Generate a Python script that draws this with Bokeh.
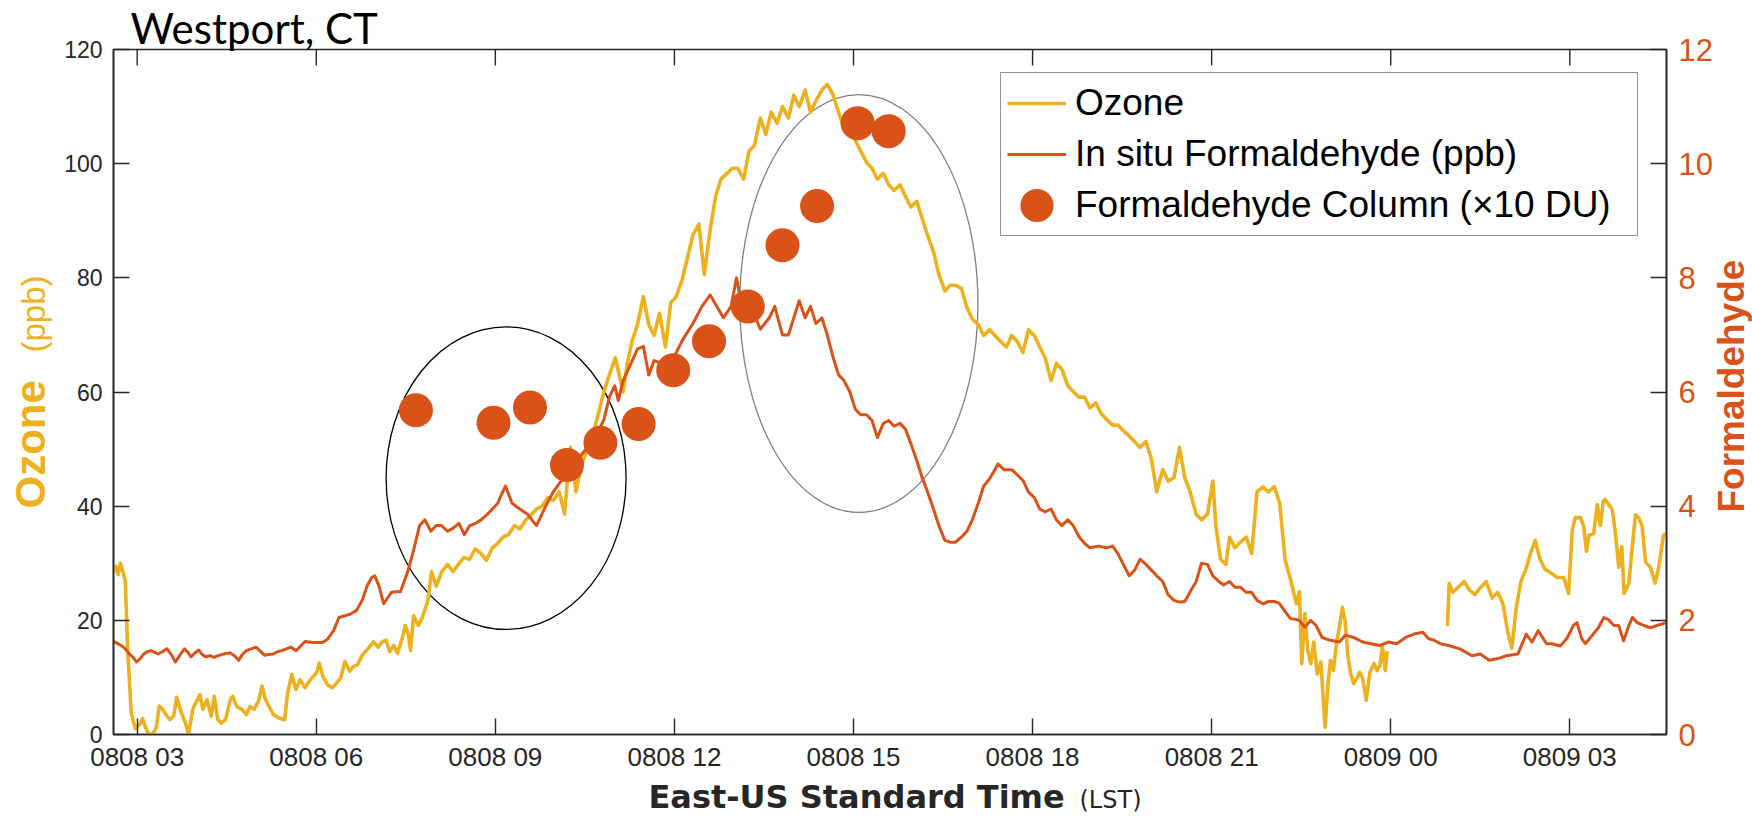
import numpy as np
from bokeh.plotting import figure
from bokeh.models import (Range1d, LinearAxis, FixedTicker, Label, Legend, LegendItem)
from bokeh.embed import file_html
from bokeh.resources import INLINE

# ---------------- data (hours since 0808 00:00 LST) ----------------
ozone_hours = [2.60, 2.64, 2.68, 2.72, 2.76, 2.80, 2.84, 2.90, 2.97, 3.05, 3.09, 3.13, 3.19, 3.26, 3.32,
               3.37, 3.42, 3.48, 3.55, 3.61, 3.66, 3.74, 3.81, 3.86, 3.93, 3.98, 4.05, 4.10, 4.17, 4.24,
               4.29, 4.35, 4.41, 4.48, 4.56, 4.60, 4.67, 4.75, 4.83, 4.89, 4.96, 5.04, 5.09, 5.15, 5.21,
               5.28, 5.37, 5.47, 5.52, 5.59, 5.66, 5.73, 5.81, 5.88, 5.95, 6.00, 6.05, 6.11, 6.19, 6.27,
               6.34, 6.41, 6.48, 6.56, 6.62, 6.69, 6.77, 6.84, 6.91, 6.96, 7.04, 7.10, 7.17, 7.23, 7.30,
               7.36, 7.44, 7.49, 7.54, 7.58, 7.63, 7.71, 7.78, 7.87, 7.93, 8.01, 8.10, 8.20, 8.29, 8.38,
               8.47, 8.57, 8.66, 8.76, 8.85, 8.95, 9.04, 9.13, 9.22, 9.32, 9.41, 9.51, 9.60, 9.69, 9.78,
               9.88, 9.97, 10.07, 10.16, 10.21, 10.26, 10.35, 10.45, 10.54, 10.63, 10.72, 10.82, 10.91,
               11.01, 11.14, 11.21, 11.29, 11.38, 11.48, 11.57, 11.66, 11.75, 11.85, 11.94, 12.03, 12.13,
               12.22, 12.31, 12.41, 12.50, 12.60, 12.69, 12.78, 12.88, 12.97, 13.06, 13.16, 13.25, 13.34,
               13.44, 13.53, 13.62, 13.72, 13.81, 13.91, 14.00, 14.09, 14.19, 14.28, 14.37, 14.47, 14.56,
               14.66, 14.75, 14.84, 14.94, 15.03, 15.12, 15.22, 15.31, 15.40, 15.50, 15.59, 15.68, 15.78,
               15.87, 15.96, 16.06, 16.15, 16.24, 16.34, 16.43, 16.53, 16.62, 16.71, 16.81, 16.90, 16.99,
               17.09, 17.18, 17.28, 17.37, 17.46, 17.56, 17.65, 17.74, 17.84, 17.93, 18.03, 18.12, 18.21,
               18.31, 18.40, 18.49, 18.59, 18.68, 18.78, 18.87, 18.96, 19.06, 19.15, 19.24, 19.34, 19.43,
               19.52, 19.62, 19.71, 19.80, 19.90, 19.99, 20.08, 20.18, 20.27, 20.37, 20.46, 20.55, 20.64,
               20.74, 20.83, 20.93, 21.02, 21.07, 21.15, 21.24, 21.30, 21.39, 21.48, 21.58, 21.67, 21.76,
               21.86, 21.95, 22.05, 22.14, 22.23, 22.33, 22.42, 22.47, 22.51, 22.56, 22.61, 22.66, 22.71,
               22.77, 22.83, 22.90, 22.95, 22.99, 23.04, 23.09, 23.14, 23.19, 23.24, 23.28, 23.33, 23.38,
               23.43, 23.48, 23.53, 23.59, 23.65, 23.72, 23.77, 23.82, 23.86, 23.91, 23.94, 24.40, 24.95,
               24.98, 25.04, 25.13, 25.23, 25.32, 25.41, 25.51, 25.60, 25.70, 25.79, 25.88, 25.96, 26.03,
               26.10, 26.18, 26.26, 26.35, 26.42, 26.50, 26.58, 26.67, 26.79, 26.90, 26.98, 27.04, 27.09,
               27.18, 27.23, 27.28, 27.32, 27.40, 27.46, 27.51, 27.56, 27.59, 27.65, 27.71, 27.76, 27.82,
               27.87, 27.91, 27.99, 28.04, 28.10, 28.15, 28.21, 28.27, 28.35, 28.43, 28.49, 28.57, 28.62]
ozone_ppb = [28.5, 29.5, 28.0, 30.0, 28.5, 27.0, 15.0, 3.7, 1.0, 1.9, 2.8, 1.5, 0.0, 0.1, 1.2,
             5.0, 4.5, 3.5, 2.6, 3.2, 6.5, 3.8, 2.0, 0.0, 4.4, 5.5, 7.0, 4.4, 6.1, 3.2,
             6.7, 2.6, 2.0, 2.6, 6.1, 6.7, 4.9, 4.4, 3.5, 4.9, 4.4, 6.1, 8.5, 6.1, 4.9,
             3.5, 2.9, 2.6, 7.3, 10.5, 7.9, 9.6, 8.2, 9.3, 10.2, 10.7, 12.5, 10.2, 8.7, 8.2,
             9.0, 9.9, 12.8, 11.1, 11.9, 12.2, 13.9, 14.7, 15.6, 16.2, 15.3, 16.2, 16.5, 14.5, 15.6,
             14.2, 16.8, 19.1, 17.6, 14.7, 20.8, 19.1, 20.6, 23.5, 28.5, 26.0, 28.5, 29.8, 28.5, 29.8,
             31.0, 30.7, 32.5, 31.7, 30.5, 32.7, 33.5, 34.6, 35.0, 36.6, 36.0, 37.6, 38.5, 39.5, 40.0,
             41.5, 41.0, 42.5, 38.6, 45.0, 50.3, 42.5, 47.4, 50.0, 52.3, 56.0, 60.1, 63.0,
             66.0, 60.0, 65.0, 68.9, 71.8, 76.7, 71.8, 69.9, 73.8, 67.9, 75.7, 76.7, 79.7,
             83.6, 87.5, 89.4, 80.6, 88.5, 94.3, 97.3, 98.3, 99.2, 99.2, 97.3, 102.2, 103.2,
             108.0, 105.1, 109.0, 107.1, 110.0, 108.0, 112.0, 110.0, 112.9, 109.0, 111.0, 112.9, 113.9,
             112.0, 109.0, 106.1, 107.1, 104.1, 102.2, 100.2, 99.2, 97.3, 98.3, 96.3, 95.3, 96.3,
             94.3, 92.4, 93.4, 90.4, 87.5, 84.6, 80.6, 77.7, 78.7, 78.7, 78.1, 74.8, 72.8,
             71.8, 69.9, 70.9, 69.9, 68.9, 67.9, 69.9, 68.9, 66.9, 70.9, 69.9, 67.9, 66.0,
             62.0, 65.0, 64.0, 61.1, 60.1, 59.1, 59.1, 57.2, 58.1, 56.2, 55.2, 54.2, 54.2,
             53.2, 52.3, 51.3, 50.3, 51.3, 48.3, 42.5, 46.4, 44.4, 45.0, 50.3, 45.0, 42.5,
             38.6, 37.6, 38.6, 44.4, 36.6, 30.7, 29.8, 34.6, 32.7, 33.7, 34.6, 31.7, 42.5,
             43.4, 42.5, 43.4, 40.5, 30.7, 26.8, 22.9, 25.0, 12.4, 21.2, 14.7, 12.4, 16.2,
             10.6, 12.7, 1.3, 8.9, 13.0, 11.2, 16.0, 18.8, 22.3, 19.6, 14.0, 10.6, 8.9,
             9.8, 10.9, 9.8, 6.0, 10.9, 12.4, 11.2, 12.1, 15.4, 11.2, 14.6, float("nan"), 19.0,
             26.5, 24.9, 25.8, 26.8, 25.3, 24.5, 25.8, 26.8, 23.9, 24.9, 22.9, 18.0, 15.1,
             22.0, 26.8, 28.8, 32.0, 34.0, 30.7, 29.0, 28.4, 27.5, 27.5, 24.7, 35.7, 38.0,
             38.0, 36.6, 32.1, 34.9, 35.2, 40.3, 36.6, 40.8, 41.2, 40.3, 39.4, 35.7, 29.3,
             32.9, 24.7, 26.5, 32.1, 38.5, 38.0, 36.6, 30.2, 29.3, 26.5, 29.3, 34.9, 35.2]

hcho_hours = [2.60, 2.66, 2.73, 2.80, 2.87, 2.93, 2.99, 3.05, 3.11, 3.17, 3.23, 3.29, 3.35, 3.42, 3.50,
              3.57, 3.64, 3.72, 3.79, 3.85, 3.90, 3.96, 4.03, 4.09, 4.15, 4.22, 4.29, 4.35, 4.41, 4.48,
              4.56, 4.63, 4.70, 4.76, 4.83, 4.91, 4.99, 5.06, 5.13, 5.20, 5.28, 5.35, 5.42, 5.50, 5.57,
              5.62, 5.66, 5.74, 5.81, 5.88, 5.95, 6.03, 6.10, 6.19, 6.29, 6.38, 6.48, 6.57, 6.67, 6.77,
              6.85, 6.93, 6.98, 7.05, 7.13, 7.20, 7.26, 7.34, 7.41, 7.48, 7.54, 7.64, 7.73, 7.82, 7.92,
              8.01, 8.10, 8.20, 8.30, 8.39, 8.48, 8.57, 8.67, 8.76, 8.86, 8.95, 9.04, 9.10, 9.17, 9.28,
              9.41, 9.54, 9.62, 9.69, 9.82, 9.97, 10.10, 10.26, 10.39, 10.54, 10.63, 10.73, 10.82, 10.91,
              11.00, 11.06, 11.14, 11.25, 11.38, 11.48, 11.57, 11.66, 11.80, 11.94, 12.13, 12.31, 12.46,
              12.60, 12.71, 12.82, 12.95, 13.04, 13.13, 13.22, 13.32, 13.44, 13.59, 13.68, 13.81, 13.91,
              14.00, 14.09, 14.19, 14.28, 14.37, 14.47, 14.56, 14.66, 14.75, 14.84, 14.94, 15.03, 15.12,
              15.22, 15.31, 15.40, 15.50, 15.59, 15.68, 15.78, 15.87, 15.96, 16.06, 16.15, 16.24, 16.34,
              16.43, 16.53, 16.62, 16.71, 16.81, 16.90, 16.99, 17.09, 17.18, 17.28, 17.37, 17.42, 17.52,
              17.65, 17.74, 17.84, 17.93, 18.03, 18.12, 18.21, 18.31, 18.40, 18.49, 18.59, 18.68, 18.78,
              18.87, 18.96, 19.10, 19.24, 19.34, 19.43, 19.52, 19.62, 19.71, 19.80, 19.90, 19.99, 20.08,
              20.18, 20.27, 20.37, 20.46, 20.55, 20.64, 20.74, 20.83, 20.93, 21.02, 21.12, 21.20, 21.30,
              21.39, 21.48, 21.58, 21.67, 21.76, 21.86, 21.95, 22.05, 22.13, 22.22, 22.32, 22.40, 22.47,
              22.56, 22.66, 22.75, 22.85, 22.99, 23.14, 23.24, 23.38, 23.53, 23.67, 23.82, 23.96, 24.10,
              24.25, 24.39, 24.54, 24.63, 24.73, 24.83, 24.97, 25.16, 25.36, 25.50, 25.65, 25.79, 25.94,
              26.13, 26.27, 26.37, 26.47, 26.61, 26.70, 26.84, 26.95, 27.06, 27.12, 27.20, 27.26, 27.37,
              27.48, 27.57, 27.65, 27.74, 27.82, 27.90, 27.99, 28.05, 28.13, 28.24, 28.35, 28.46, 28.62]
hcho_ppb = [1.63, 1.60, 1.56, 1.50, 1.41, 1.35, 1.27, 1.33, 1.41, 1.45, 1.47, 1.44, 1.41, 1.45, 1.50,
            1.40, 1.27, 1.40, 1.50, 1.44, 1.36, 1.42, 1.48, 1.40, 1.36, 1.38, 1.35, 1.38, 1.40, 1.42,
            1.43, 1.38, 1.30, 1.40, 1.47, 1.50, 1.53, 1.46, 1.39, 1.40, 1.41, 1.45, 1.47, 1.50, 1.53,
            1.50, 1.47, 1.55, 1.63, 1.62, 1.61, 1.61, 1.61, 1.67, 1.82, 2.05, 2.08, 2.11, 2.17, 2.35,
            2.60, 2.75, 2.78, 2.60, 2.29, 2.40, 2.49, 2.50, 2.50, 2.70, 2.88, 3.27, 3.66, 3.76, 3.56,
            3.66, 3.66, 3.56, 3.62, 3.70, 3.50, 3.66, 3.70, 3.76, 3.85, 3.95, 4.05, 4.20, 4.35, 4.05,
            3.95, 3.86, 3.75, 3.66, 3.95, 4.25, 4.44, 4.64, 4.83, 5.03, 5.10, 5.32, 5.52, 5.91,
            6.11, 5.85, 6.20, 6.45, 6.75, 6.80, 6.30, 6.55, 6.50, 6.50, 6.90, 7.20, 7.50,
            7.70, 7.50, 7.30, 7.50, 8.00, 7.50, 7.70, 7.40, 7.10, 7.30, 7.50, 7.00, 7.00,
            7.30, 7.60, 7.30, 7.50, 7.20, 7.30, 7.00, 6.60, 6.30, 6.20, 6.00, 5.70, 5.60,
            5.60, 5.50, 5.20, 5.45, 5.50, 5.40, 5.45, 5.35, 5.10, 4.80, 4.50, 4.25, 3.95,
            3.66, 3.40, 3.37, 3.37, 3.46, 3.56, 3.76, 4.05, 4.35, 4.48, 4.64, 4.74, 4.64,
            4.64, 4.55, 4.45, 4.25, 4.15, 3.95, 3.90, 3.95, 3.76, 3.66, 3.76, 3.66, 3.46,
            3.35, 3.27, 3.30, 3.27, 3.30, 3.17, 2.98, 2.78, 2.88, 3.07, 2.98, 2.88, 2.78,
            2.68, 2.45, 2.35, 2.32, 2.33, 2.50, 2.68, 3.00, 2.98, 2.78, 2.68, 2.62, 2.68,
            2.58, 2.58, 2.49, 2.49, 2.35, 2.29, 2.33, 2.33, 2.30, 2.17, 2.03, 2.02, 2.00,
            1.88, 2.00, 1.91, 1.70, 1.65, 1.62, 1.74, 1.70, 1.62, 1.59, 1.56, 1.62, 1.59,
            1.70, 1.76, 1.79, 1.68, 1.65, 1.59, 1.56, 1.50, 1.38, 1.41, 1.30, 1.33, 1.38,
            1.41, 1.76, 1.62, 1.82, 1.59, 1.59, 1.55, 1.68, 1.91, 1.96, 1.68, 1.59, 1.73,
            1.87, 2.05, 2.01, 1.91, 1.91, 1.64, 1.91, 2.05, 1.96, 1.91, 1.87, 1.91, 1.96]

column_hours = [7.67, 8.97, 9.58, 10.20, 10.76, 11.40, 11.98, 12.58, 13.23, 13.81, 14.39, 15.07, 15.59]
column_values = [5.68, 5.46, 5.73, 4.72, 5.11, 5.44, 6.38, 6.89, 7.50, 8.57, 9.26, 10.71, 10.57]

# highlighted periods (centre hour, centre ozone ppb, width h, height ppb)
ellipse_hours = [9.18, 15.09]
ellipse_ozone = [44.9, 75.5]
ellipse_width_h = [4.02, 3.99]
ellipse_height_ppb = [53.0, 73.2]

x_tick_hours = [3, 6, 9, 12, 15, 18, 21, 24, 27]
x_tick_labels = ["0808 03", "0808 06", "0808 09", "0808 12", "0808 15",
                 "0808 18", "0808 21", "0809 00", "0809 03"]
ozone_ticks = [0, 20, 40, 60, 80, 100, 120]
hcho_ticks = [0, 2, 4, 6, 8, 10, 12]

# ---------------- styling ----------------
OZ = "#EDB120"
HC = "#D95319"
INK = "#262626"
SANS = "Liberation Sans"
W, H = 1752, 823
FRAME_H = 685            # plot-area height in px (823 - 49 - 89)
TICK_PX = 16

p = figure(width=W, height=H, output_backend="svg", toolbar_location=None,
           x_range=Range1d(2.603, 28.62), y_range=Range1d(0, 120),
           min_border_left=113, min_border_right=86, min_border_top=49, min_border_bottom=89)
p.extra_y_ranges = {"hcho": Range1d(0, 12)}
p.background_fill_color = "white"
p.border_fill_color = "white"
p.outline_line_color = INK
p.outline_line_width = 1.6
p.xgrid.grid_line_color = None
p.ygrid.grid_line_color = None

xax = p.below[0]
xax.ticker = FixedTicker(ticks=x_tick_hours)
xax.major_label_overrides = {h: lab for h, lab in zip(x_tick_hours, x_tick_labels)}
yax = p.left[0]
yax.ticker = FixedTicker(ticks=ozone_ticks)

for ax in (xax, yax):
    ax.major_tick_in = TICK_PX
    ax.major_tick_out = 0
    ax.minor_tick_line_color = None
    ax.major_tick_line_color = INK
    ax.major_tick_line_width = 1.4
    ax.axis_line_color = INK
    ax.axis_line_width = 1.6
    ax.major_label_text_color = INK
    ax.major_label_text_font = SANS

xax.major_label_text_font_size = "26px"
xax.major_label_standoff = 7
yax.major_label_text_font_size = "23px"
yax.major_label_standoff = 11

right_ax = LinearAxis(y_range_name="hcho", ticker=FixedTicker(ticks=hcho_ticks),
                      major_tick_in=TICK_PX, major_tick_out=0, major_tick_line_color=INK,
                      major_tick_line_width=1.4, minor_tick_line_color=None,
                      axis_line_color=INK, axis_line_width=1.6,
                      major_label_text_color=HC, major_label_text_font=SANS,
                      major_label_text_font_size="31px", major_label_standoff=12)
p.add_layout(right_ax, "right")

# inward tick marks along the top edge of the box (same positions as the time ticks)
top_tick_len = TICK_PX * 120.0 / FRAME_H
p.segment(x0=x_tick_hours, x1=x_tick_hours, y0=[120] * len(x_tick_hours),
          y1=[120 - top_tick_len] * len(x_tick_hours), line_color=INK, line_width=1.4)

# ---------------- glyphs ----------------
p.ellipse(x=ellipse_hours[:1], y=ellipse_ozone[:1], width=ellipse_width_h[:1],
          height=ellipse_height_ppb[:1], fill_color=None, line_color="black", line_width=1.3)
p.ellipse(x=ellipse_hours[1:], y=ellipse_ozone[1:], width=ellipse_width_h[1:],
          height=ellipse_height_ppb[1:], fill_color=None, line_color="#7f7f7f", line_width=1.3)

r_oz = p.line(ozone_hours, ozone_ppb, line_color=OZ, line_width=3.6, line_join="round")
r_hc = p.line(hcho_hours, hcho_ppb, y_range_name="hcho", line_color=HC, line_width=3.0,
              line_join="round")
r_col = p.scatter(column_hours, column_values, y_range_name="hcho", marker="circle", size=20,
                  fill_color=HC, line_color=HC, line_width=14)

legend = Legend(items=[LegendItem(label="Ozone", renderers=[r_oz]),
                       LegendItem(label="In situ Formaldehyde (ppb)", renderers=[r_hc]),
                       LegendItem(label="Formaldehyde Column (\u00d710 DU)", renderers=[r_col])],
                location=(887, 498), orientation="vertical",
                glyph_width=59, glyph_height=48, label_height=48, spacing=3, padding=6,
                label_standoff=9, label_width=556,
                label_text_font=SANS, label_text_font_size="37px", label_text_color="black",
                border_line_color=INK, border_line_width=1.4,
                background_fill_color="white", background_fill_alpha=1.0)
p.add_layout(legend)

# ---------------- outer texts: transparent page-sized overlay (separate root) ----------------
t = figure(width=W, height=H, output_backend="svg", toolbar_location=None, title=None,
           x_range=Range1d(0, W), y_range=Range1d(0, H),
           x_axis_location=None, y_axis_location=None, min_border=0)
t.outline_line_color = None
t.background_fill_alpha = 0
t.border_fill_alpha = 0
t.xgrid.visible = False
t.ygrid.visible = False
t.styles = {"position": "absolute", "top": "0px", "left": "0px", "z-index": "5"}

def put(text, x, y_from_top, **kw):
    # (x, y_from_top) is the centre line of the text box
    t.add_layout(Label(x=x, y=H - y_from_top, x_units="data", y_units="data", text=text,
                       text_baseline="middle", text_align="left", **kw))

put("Westport, CT", 130, 27, text_font="Lato", text_font_size="42px", text_color="black")
put("Ozone", 30, 508, angle=np.pi / 2, text_font=SANS, text_font_style="bold",
    text_font_size="42px", text_color=OZ)
put("(ppb)", 33, 352, angle=np.pi / 2, text_font=SANS, text_font_size="33px", text_color=OZ)
put("Formaldehyde", 1731, 512, angle=np.pi / 2, text_font=SANS, text_font_style="bold",
    text_font_size="37px", text_color=HC)
put("East-US Standard Time", 648, 796, text_font="DejaVu Sans", text_font_style="bold",
    text_font_size="32px", text_color=INK)
put("(LST)", 1079, 799, text_font="DejaVu Sans", text_font_size="24px", text_color=INK)

open("out.html", "w").write(file_html([p, t], INLINE))
